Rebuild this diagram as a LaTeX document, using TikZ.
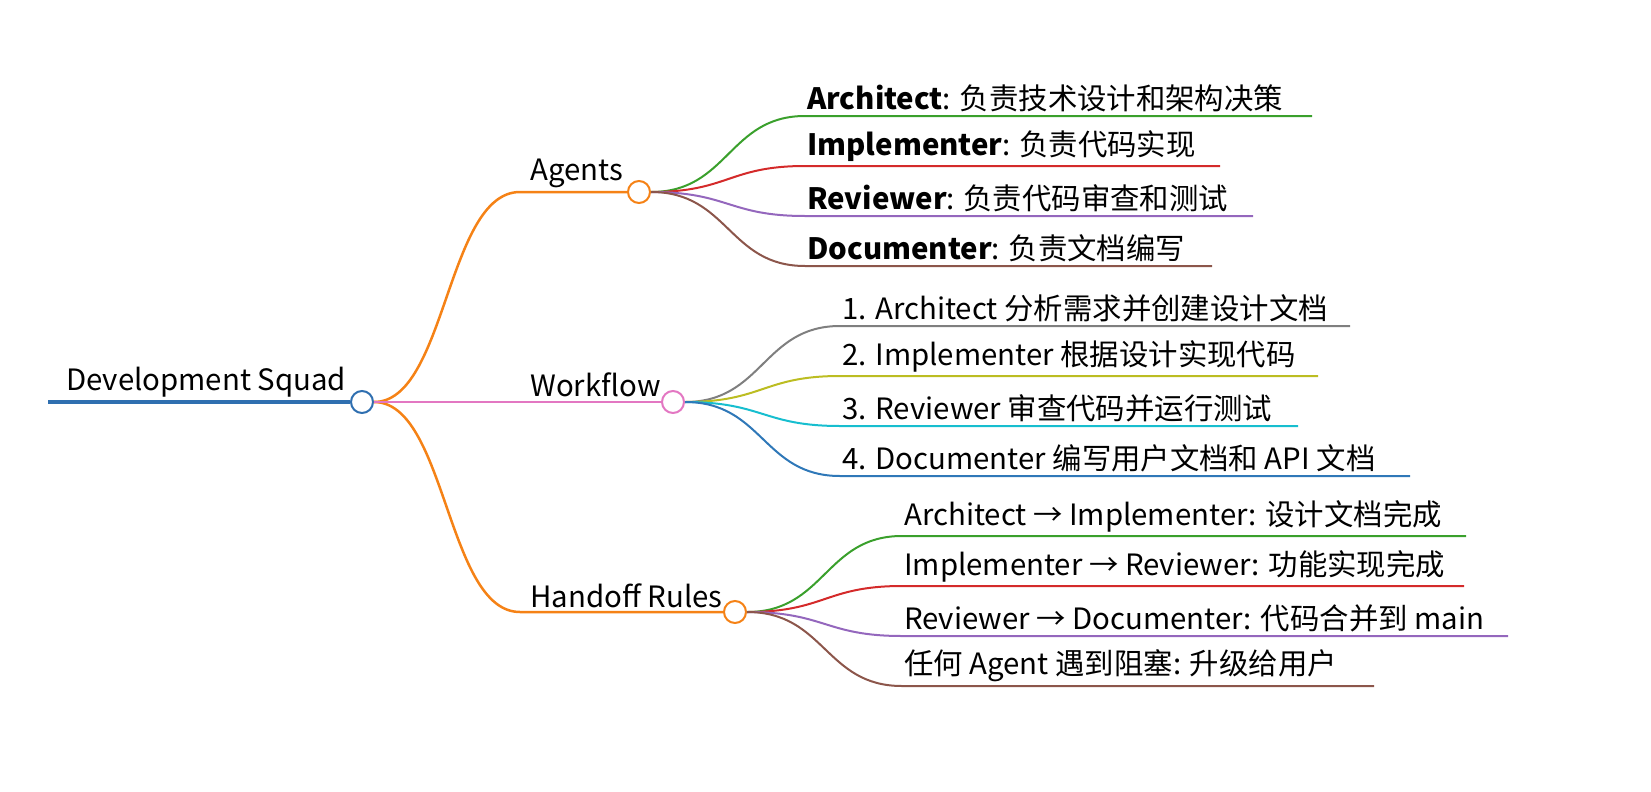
\documentclass[tikz,border=0pt]{standalone}
\usepackage{fontspec}
\setmainfont{Noto Sans CJK SC}
\begin{document}
\begin{tikzpicture}[x=1bp,y=-1bp,
 lbl/.style={anchor=south west,inner sep=0pt,font=\fontsize{29.5}{32}\selectfont},
 hub/.style={circle,draw,fill=white,line width=2bp,minimum size=22bp,inner sep=0pt},
 br/.style={line width=2.5bp},
 lf/.style={line width=2bp}]
\useasboundingbox (0,0) rectangle (1651,792);
\definecolor{cb}{HTML}{2F6FB0}\definecolor{co}{HTML}{F58216}\definecolor{cp}{HTML}{E377C2}
\definecolor{cg}{HTML}{3AA02C}\definecolor{cr}{HTML}{D42A2A}\definecolor{cv}{HTML}{9467BD}
\definecolor{cn}{HTML}{8C564B}\definecolor{cgr}{HTML}{7F7F7F}\definecolor{cy}{HTML}{BCBD22}
\definecolor{cc}{HTML}{17BECF}\definecolor{cb2}{HTML}{2F78B8}
% root
\coordinate (r0) at (48,402);
\node[hub,draw=cb] (root) at (362,402) {};
\draw[cb,line width=3.5bp] (r0) -- (root.west);
\node[lbl] (rt) at (66,397) {Development Squad};
% branches
\newcommand\mbranch[8]{% name color x y textx label hubx huby
 \coordinate (#1s) at (#3,#4);
 \node[hub,draw=#2] (#1) at (#7,#8) {};
 \draw[#2,br] (root.east) .. controls ({(373+#3)/2},402) and ({(373+#3)/2},#4) .. (#1s) -- (#1.west);
 \node[lbl] (#1t) at (#5,{#4-4}) {#6};}
\mbranch{ag}{co}{520}{192}{530}{Agents}{639}{192}
\mbranch{hr}{co}{520}{612}{530}{Handoff Rules}{735}{612}
\node[hub,draw=cp] (wf) at (673,402) {};
\draw[cp,br] (root.east) -- (wf.west);
\node[lbl] (wft) at (530,397) {Workflow};
\newcommand\mleaf[8]{% parent name color x0 y x1 xtext text
 \coordinate (#2a) at ({#7-2},#5);\coordinate (#2b) at (#6,#5);
 \draw[#3,lf] (#1.east) .. controls ({(#7+#4)/2},\pgfkeysvalueof{/tmp/py}) and ({(#7+#4)/2},#5) .. (#2a) -- (#2b);
 \node[lbl] (#2t) at (#7,{#5-4}) {#8};}
\pgfkeys{/tmp/py/.initial=192}
\mleaf{ag}{a1}{cg}{650}{116}{1312}{807}{\textbf{Architect}: 负责技术设计和架构决策}
\mleaf{ag}{a2}{cr}{650}{166}{1220}{807}{\textbf{Implementer}: 负责代码实现}
\mleaf{ag}{a3}{cv}{650}{216}{1253}{807}{\textbf{Reviewer}: 负责代码审查和测试}
\mleaf{ag}{a4}{cn}{650}{266}{1212}{807}{\textbf{Documenter}: 负责文档编写}
\pgfkeys{/tmp/py=402}
\mleaf{wf}{w1}{cgr}{684}{326}{1350}{842}{1. Architect 分析需求并创建设计文档}
\mleaf{wf}{w2}{cy}{684}{376}{1318}{842}{2. Implementer 根据设计实现代码}
\mleaf{wf}{w3}{cc}{684}{426}{1298}{842}{3. Reviewer 审查代码并运行测试}
\mleaf{wf}{w4}{cb2}{684}{476}{1410}{842}{4. Documenter 编写用户文档和 API 文档}
\pgfkeys{/tmp/py=612}
\mleaf{hr}{h1}{cg}{746}{536}{1466}{904}{Architect → Implementer: 设计文档完成}
\mleaf{hr}{h2}{cr}{746}{586}{1464}{904}{Implementer → Reviewer: 功能实现完成}
\mleaf{hr}{h3}{cv}{746}{636}{1508}{904}{Reviewer → Documenter: 代码合并到 main}
\mleaf{hr}{h4}{cn}{746}{686}{1374}{904}{任何 Agent 遇到阻塞: 升级给用户}
\end{tikzpicture}
\end{document}
